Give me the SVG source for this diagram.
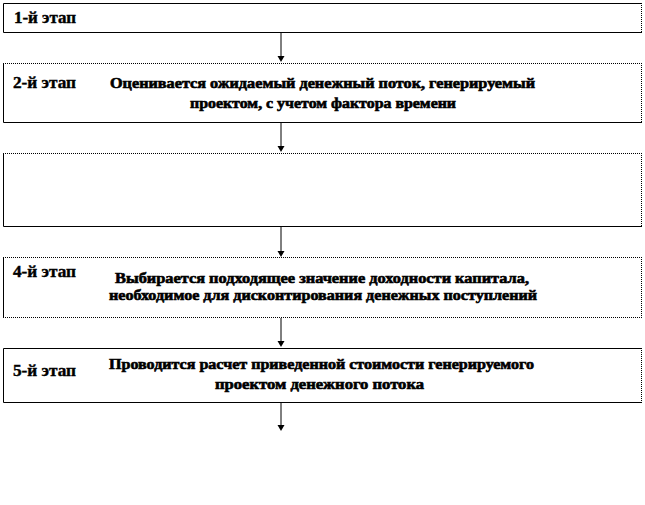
<svg xmlns="http://www.w3.org/2000/svg" width="645" height="505" viewBox="0 0 645 505">
<style>
.bg{fill:#ffffff}
.solid{stroke:#000;stroke-width:1;fill:none}
.dot{stroke:#000;stroke-width:1;fill:none;stroke-dasharray:1 1}
.lbl{font-family:"Liberation Serif","Times New Roman",serif;font-weight:bold;font-size:16px;fill:#000;stroke:#000;stroke-width:0.4}
.txt{font-family:"Liberation Serif","Times New Roman",serif;font-weight:bold;font-size:14px;fill:#000;stroke:#000;stroke-width:0.6}
.conn{stroke:#000;stroke-width:1;fill:none}
.head{fill:#000}
</style>
<rect class="bg" x="0" y="0" width="645" height="505"/>
<g id="connectors">
<line class="conn" x1="281" y1="33" x2="281" y2="56"/>
<path class="head" d="M277.5,56 L284.5,56 L281,62 Z"/>
<line class="conn" x1="281" y1="123" x2="281" y2="146"/>
<path class="head" d="M277.5,146 L284.5,146 L281,152 Z"/>
<line class="conn" x1="281" y1="226" x2="281" y2="251"/>
<path class="head" d="M277.5,251 L284.5,251 L281,257 Z"/>
<line class="conn" x1="281" y1="318" x2="281" y2="341"/>
<path class="head" d="M277.5,341 L284.5,341 L281,347 Z"/>
<line class="conn" x1="281" y1="402" x2="281" y2="425"/>
<path class="head" d="M277.5,425 L284.5,425 L281,431 Z"/>
</g>
<g id="stage1">
<path class="solid" d="M642,3.5 H3.5 V32.5 H642"/>
<line class="dot" x1="641.5" y1="3" x2="641.5" y2="33"/>
<text class="lbl" x="14" y="23" textLength="62" lengthAdjust="spacingAndGlyphs">1-й этап</text>
</g>
<g id="stage2">
<line class="dot" x1="3" y1="63.5" x2="642" y2="63.5"/>
<path class="solid" d="M3.5,63 V122.5 H642"/>
<line class="dot" x1="641.5" y1="63" x2="641.5" y2="123"/>
<text class="lbl" x="13" y="88" textLength="63" lengthAdjust="spacingAndGlyphs">2-й этап</text>
<text class="txt" x="110" y="88" textLength="425" lengthAdjust="spacingAndGlyphs">Оценивается ожидаемый денежный поток, генерируемый</text>
<text class="txt" x="190" y="108" textLength="266" lengthAdjust="spacingAndGlyphs">проектом, с учетом фактора времени</text>
</g>
<g id="stage3">
<line class="dot" x1="3" y1="153.5" x2="642" y2="153.5"/>
<path class="solid" d="M3.5,153 V226.5 H642"/>
<line class="dot" x1="641.5" y1="153" x2="641.5" y2="227"/>
</g>
<g id="stage4">
<line class="dot" x1="3" y1="257.5" x2="642" y2="257.5"/>
<path class="solid" d="M3.5,257 V317.5"/>
<line class="dot" x1="3" y1="317.5" x2="642" y2="317.5"/>
<line class="dot" x1="641.5" y1="257" x2="641.5" y2="318"/>
<text class="lbl" x="13" y="277" textLength="63" lengthAdjust="spacingAndGlyphs">4-й этап</text>
<text class="txt" x="115" y="283" textLength="414" lengthAdjust="spacingAndGlyphs">Выбирается подходящее значение доходности капитала,</text>
<text class="txt" x="109" y="300" textLength="428" lengthAdjust="spacingAndGlyphs">необходимое для дисконтирования денежных поступлений</text>
</g>
<g id="stage5">
<path class="solid" d="M642,348.5 H3.5 V402.5 H642"/>
<line class="dot" x1="641.5" y1="348" x2="641.5" y2="403"/>
<text class="lbl" x="13" y="376" textLength="63" lengthAdjust="spacingAndGlyphs">5-й этап</text>
<text class="txt" x="109" y="369" textLength="425" lengthAdjust="spacingAndGlyphs">Проводится расчет приведенной стоимости генерируемого</text>
<text class="txt" x="215" y="389" textLength="209" lengthAdjust="spacingAndGlyphs">проектом денежного потока</text>
</g>
</svg>
